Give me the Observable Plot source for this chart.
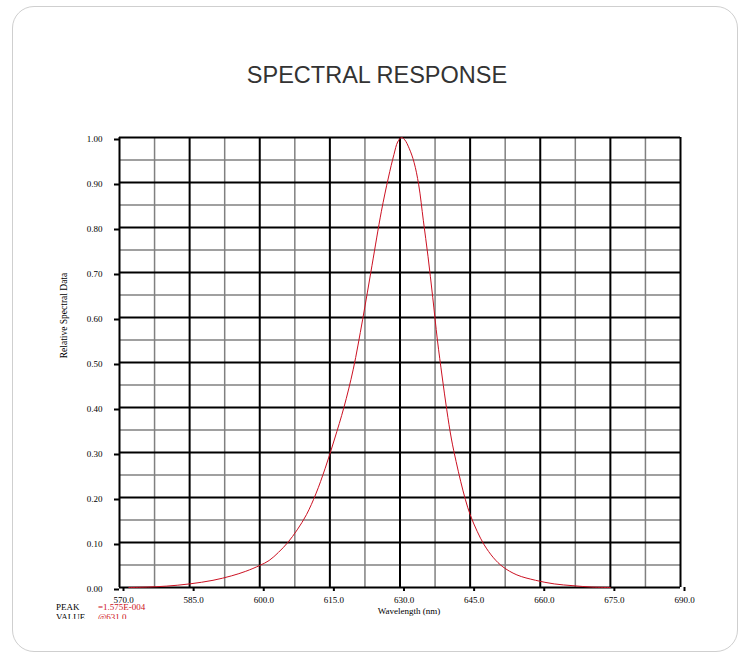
<!DOCTYPE html>
<html><head><meta charset="utf-8">
<script src="https://cdn.jsdelivr.net/npm/d3@7"></script>
<script src="https://cdn.jsdelivr.net/npm/@observablehq/plot@0.6"></script>
<style>
body{margin:0;background:#fff;}
#wrap{position:relative;width:743px;height:654px;overflow:hidden;font-family:"Liberation Serif","Times New Roman",serif;}
#card{position:absolute;left:12px;top:6px;width:726px;height:646px;border:1px solid #cfcfcf;border-radius:22px;box-sizing:border-box;}
#title{position:absolute;left:0;width:754px;top:61px;text-align:center;font-family:"Liberation Sans",Arial,sans-serif;font-size:23.5px;color:#333;line-height:28px;}
#chart{position:absolute;left:0;top:100px;}
#peak{position:absolute;left:56px;top:602px;width:140px;height:17px;overflow:hidden;font-size:9px;line-height:10px;}
#peak div{position:relative;white-space:nowrap;height:10px;}
#peak span.v{position:absolute;left:42px;top:0;color:#cc1122;}
</style></head>
<body><div id="wrap">
<div id="card"></div>
<div id="title">SPECTRAL RESPONSE</div>
<div id="chart"></div>
<div id="peak"><div>PEAK<span class="v">=1.575E-004</span></div><div>VALUE<span class="v">@631.0</span></div></div>
</div>
<script>
const wavelengths = [572,576,580,585,590,594,597,600,602,604,606,608,610,612,614,616,618,620,622,624,626,627.5,628.7,629.5,630.3,631,632,633,634,635,636,637,638,639,640,641,642,643,644,645,646.5,648,650,652,655,659,663,667,671,675];
const values = [0,0.001,0.003,0.008,0.016,0.026,0.036,0.049,0.06,0.078,0.1,0.128,0.162,0.208,0.265,0.33,0.4,0.485,0.595,0.715,0.835,0.91,0.962,0.99,1.0,0.995,0.975,0.945,0.895,0.815,0.735,0.645,0.55,0.47,0.395,0.33,0.28,0.235,0.195,0.162,0.125,0.095,0.066,0.046,0.028,0.016,0.008,0.004,0.001,0];
const xTicks = [570,585,600,615,630,645,660,675,690];
const xMinor = [577.5,592.5,607.5,622.5,637.5,652.5,667.5,682.5];
const yTicks = [0,0.1,0.2,0.3,0.4,0.5,0.6,0.7,0.8,0.9,1.0];
const yMinor = [0.05,0.15,0.25,0.35,0.45,0.55,0.65,0.75,0.85,0.95];
const xLabel = "Wavelength (nm)";
const yLabel = "Relative Spectral Data";

const data = wavelengths.map((w,i)=>({w, v: values[i]}));

const chart = Plot.plot({
  width: 743, height: 530,
  marginLeft: 119, marginRight: 63, marginTop: 37, marginBottom: 43,
  x: {domain: [570, 690]},
  y: {domain: [0, 1]},
  style: {fontFamily: "'Liberation Serif', serif", fontSize: "9px", background: "transparent", color: "#000"},
  marks: [
    Plot.ruleY(yMinor, {stroke: "#808080", strokeWidth: 1.5}),
    Plot.ruleX(xMinor, {stroke: "#808080", strokeWidth: 1.5}),
    Plot.ruleY(yTicks, {stroke: "#000", strokeWidth: 2}),
    Plot.ruleX(xTicks, {stroke: "#000", strokeWidth: 2}),
    Plot.line(data, {x: "w", y: "v", stroke: "#cc1122", strokeWidth: 1, curve: "catmull-rom"}),
    Plot.axisX(xTicks, {tickFormat: d => d.toFixed(1), tickSize: 4, tickPadding: 5, strokeWidth: 2, dx: 4, label: null}),
    Plot.axisY(yTicks, {tickFormat: d => d.toFixed(2), tickSize: 5, tickPadding: 12, strokeWidth: 2, dy: 2, label: null}),
    Plot.text([xLabel], {frameAnchor: "bottom", text: d => d, dx: 9, dy: 26, fontSize: 9}),
    Plot.text([yLabel], {frameAnchor: "left", textAnchor: "middle", text: d => d, rotate: -90, dx: -56, dy: -47, fontSize: 9.5})
  ]
});
document.getElementById("chart").appendChild(chart);
</script>
</body></html>
